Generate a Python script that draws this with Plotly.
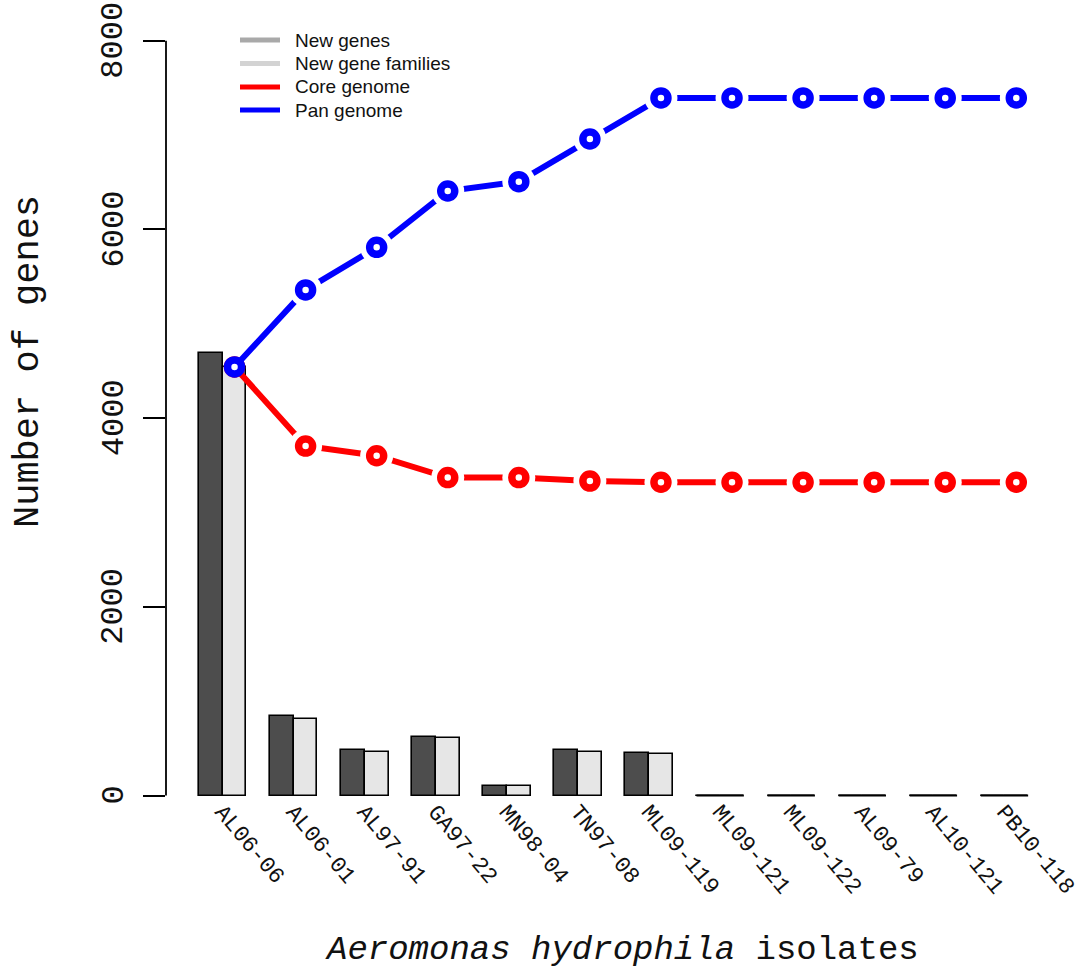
import plotly.graph_objects as go

categories = ["AL06-06", "AL06-01", "AL97-91", "GA97-22", "MN98-04", "TN97-08",
              "ML09-119", "ML09-121", "ML09-122", "AL09-79", "AL10-121", "PB10-118"]
new_genes = [4693, 843, 482, 623, 101, 482, 447, 0, 0, 0, 0, 0]
new_gene_families = [4541, 811, 464, 613, 101, 461, 437, 0, 0, 0, 0, 0]
core_genome = [4542, 3704, 3601, 3370, 3370, 3333, 3320, 3320, 3320, 3320, 3320, 3320]
pan_genome = [4542, 5358, 5810, 6407, 6506, 6958, 7393, 7393, 7393, 7393, 7393, 7393]
y_ticks = [0, 2000, 4000, 6000, 8000]
legend_names = ["New genes", "New gene families", "Core genome", "Pan genome"]
legend_colors = ["#A9A9A9", "#D3D3D3", "#FF0000", "#0000FF"]

n = len(categories)
# R barplot(beside=TRUE) positions: groups of 2 bars (width 1) + 1 space
dark_x = [1.5 + 3 * i for i in range(n)]
light_x = [2.5 + 3 * i for i in range(n)]
group_x = [2.0 + 3 * i for i in range(n)]
point_x = light_x

MONO = "Liberation Mono, Courier New, monospace"
SANS = "Liberation Sans, Arial, sans-serif"

fig = go.Figure()
fig.add_trace(go.Bar(x=dark_x, y=new_genes, width=1, marker=dict(color="#4D4D4D",
                     line=dict(color="#000000", width=1.6)), showlegend=False))
fig.add_trace(go.Bar(x=light_x, y=new_gene_families, width=1, marker=dict(color="#E6E6E6",
                     line=dict(color="#000000", width=1.6)), showlegend=False))

# zero-height bars drawn as flat outlines, like R
zx, zy = [], []
for i in range(n):
    if new_genes[i] == 0 and new_gene_families[i] == 0:
        zx += [dark_x[i] - 0.5, light_x[i] + 0.5, None]
        zy += [0, 0, None]
fig.add_trace(go.Scatter(x=zx, y=zy, mode="lines", line=dict(color="#000000", width=1.8),
                         showlegend=False, hoverinfo="skip"))


def add_series(values, color):
    fig.add_trace(go.Scatter(x=point_x, y=values, mode="lines",
                             line=dict(color=color, width=6), showlegend=False))
    # white halo to mimic R type="b" gaps
    fig.add_trace(go.Scatter(x=point_x[1:], y=values[1:], mode="markers",
                             marker=dict(color="white", size=33, line=dict(width=0)),
                             showlegend=False, hoverinfo="skip"))
    fig.add_trace(go.Scatter(x=point_x, y=values, mode="markers",
                             marker=dict(color="white", size=14, symbol="circle",
                                         line=dict(color=color, width=7.5)),
                             showlegend=False))


add_series(core_genome, "#FF0000")
add_series(pan_genome, "#0000FF")

W, H = 1079, 972
ml, mr, mt, mb = 166, 18, 11, 165
pw, ph = W - ml - mr, H - mt - mb


def px_x(p):
    return (p - ml) / pw


def px_y(p):
    return (H - mb - p) / ph


shapes = [dict(type="line", xref="paper", yref="y", x0=0, x1=0, y0=y_ticks[0], y1=y_ticks[-1],
               line=dict(color="black", width=1.8))]
annotations = []
rows = [40, 63.5, 87, 110]
for name, col, ry in zip(legend_names, legend_colors, rows):
    shapes.append(dict(type="line", xref="paper", yref="paper", x0=px_x(240), x1=px_x(280),
                       y0=px_y(ry), y1=px_y(ry), line=dict(color=col, width=5)))
    annotations.append(dict(xref="paper", yref="paper", x=px_x(293), y=px_y(ry), text=name,
                            showarrow=False, xanchor="left", yanchor="middle",
                            font=dict(family=SANS, size=19, color="#111111")))

# y tick labels (rotated, parallel to axis as in R)
for v in y_ticks:
    annotations.append(dict(xref="paper", yref="y", x=px_x(114), y=v, text=str(v),
                            textangle=-90, showarrow=False, xanchor="center", yanchor="middle",
                            font=dict(family=MONO, size=32, color="#111111")))

annotations.append(dict(xref="paper", yref="paper", x=px_x(28), y=px_y(362),
                        text="Number of genes", textangle=-90, showarrow=False,
                        xanchor="center", yanchor="middle",
                        font=dict(family=MONO, size=37, color="#111111")))
annotations.append(dict(xref="paper", yref="paper", x=px_x(622), y=px_y(950),
                        text="<i>Aeromonas hydrophila</i> isolates", showarrow=False,
                        xanchor="center", yanchor="middle",
                        font=dict(family=MONO, size=34, color="#111111")))

scale = 94.35 / 1000.0
y0_px = 795.5
ymin = -((H - mb) - y0_px) / scale
ymax = (y0_px - mt) / scale
x0_px = 175.3
unit = 23.69
xmin = (ml - x0_px) / unit
xmax = xmin + pw / unit

fig.update_layout(
    width=W, height=H, autosize=False,
    margin=dict(l=ml, r=mr, t=mt, b=mb, pad=0, autoexpand=False),
    paper_bgcolor="white", plot_bgcolor="white",
    barmode="overlay", bargap=0,
    showlegend=False,
    shapes=shapes, annotations=annotations,
    xaxis=dict(range=[xmin, xmax], showgrid=False, zeroline=False, showline=False,
               automargin=False,
               tickmode="array", tickvals=group_x, ticktext=categories, ticks="",
               tickangle=50, ticklabeloverflow="allow", ticklabelstandoff=-14,
               tickfont=dict(family=MONO, size=22.5, color="#111111")),
    yaxis=dict(range=[ymin, ymax], showgrid=False, zeroline=False, showline=False,
               automargin=False, showticklabels=False,
               tickmode="array", tickvals=y_ticks,
               ticks="outside", ticklen=22, tickwidth=1.8, tickcolor="black"),
)

fig.write_html("out.html")
